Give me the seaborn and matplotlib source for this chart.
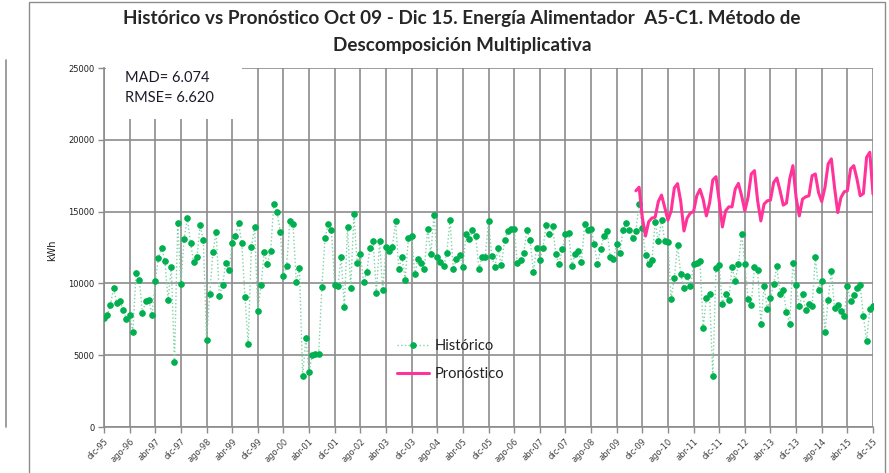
import numpy as np
import pandas as pd
import seaborn as sns
import matplotlib.pyplot as plt
from matplotlib.patches import Rectangle
from matplotlib.lines import Line2D

## datos mensuales en kWh, desde dic-95 (mes 0) hasta dic-15 (mes 240)
historico = [7580,
    7770, 8520, 9680, 8630, 8750, 8120, 7510, 7820, 6650, 10730, 10270, 7930,       # 1996
    8750, 8870, 7820, 10150, 11780, 12480, 11550, 8870, 11130, 4500, 14230, 9960,    # 1997
    13070, 14580, 12790, 11480, 11830, 14050, 13020, 6070, 9290, 12180, 13600, 9150, # 1998
    9870, 11430, 10920, 12790, 13300, 14230, 12790, 9030, 5760, 12550, 13930, 8050,  # 1999
    9870, 12180, 11360, 12250, 15560, 14980, 13600, 10500, 11200, 14350, 14120, 10100,  # 2000
    11040, 3570, 6180, 3850, 5020, 5080, 5100, 9750, 13180, 14120, 13700, 9870,      # 2001
    9800, 11850, 8330, 13930, 9680, 14860, 11430, 12060, 10100, 10800, 12440, 12950, # 2002
    9330, 12950, 9520, 12550, 12250, 12530, 14350, 11010, 11850, 10270, 13180, 13300,  # 2003
    10620, 11710, 11390, 11010, 13810, 12060, 14770, 11830, 11500, 11200, 12130, 14400,  # 2004
    11010, 11670, 11970, 11130, 13420, 13070, 13700, 13300, 11010, 11850, 11850, 14350,  # 2005
    11900, 11130, 12440, 11250, 13000, 13650, 13770, 13800, 11430, 11620, 12130, 13700,  # 2006
    13000, 10800, 12480, 11620, 12480, 14050, 13460, 14000, 12060, 11320, 12370, 13420,  # 2007
    13530, 11200, 12020, 12250, 11480, 14120, 13700, 13810, 12720, 11360, 12370, 13300,  # 2008
    13650, 11830, 11670, 12720, 12130, 13700, 14230, 13700, 13180, 13650, 15560, 13880,  # 2009
    11950, 11320, 11600, 14300, 12950, 14420, 12950, 12880, 8940, 10380, 12670, 10620,   # 2010
    9680, 10500, 9800, 11320, 11430, 11550, 6880, 8980, 9260, 3570, 11080, 11270,    # 2011
    8560, 9260, 8870, 11130, 10200, 11320, 13460, 11320, 8940, 8520, 11130, 10900,   # 2012
    7190, 9800, 8240, 8980, 9990, 11200, 9260, 9570, 8000, 7190, 11430, 9870,        # 2013
    8450, 9260, 8120, 8560, 8400, 11830, 9570, 10200, 6600, 8820, 10850, 8280,       # 2014
    8520, 8050, 7700, 9800, 8750, 9220, 9680, 9870, 7700, 6020, 8210, 8450,          # 2015
]

## pronóstico oct-09 ... dic-15
inicio_pronostico = 166
pronostico = [16450, 16700, 14600,
    13300, 14300, 14550, 14600, 15700, 16150, 15300, 14400, 15050, 16650, 16950, 15700,  # 2010
    13650, 14550, 14900, 15000, 16100, 16550, 15850, 14700, 15600, 17200, 17430, 15750,  # 2011
    13930, 15050, 15330, 15330, 16570, 16960, 16100, 15050, 15980, 17620, 17850, 15750,  # 2012
    14350, 15520, 15750, 15800, 17030, 17340, 16450, 15450, 15600, 17270, 18200, 15980,  # 2013
    14700, 15870, 16030, 16100, 17500, 17620, 16330, 15700, 16680, 18320, 18670, 16680,  # 2014
    14930, 15980, 16380, 16450, 17970, 18200, 17270, 16100, 16260, 18780, 19130, 16220,  # 2015
]

etiquetas_x = ["dic-95", "ago-96", "abr-97", "dic-97", "ago-98", "abr-99", "dic-99",
               "ago-00", "abr-01", "dic-01", "ago-02", "abr-03", "dic-03", "ago-04",
               "abr-05", "dic-05", "ago-06", "abr-07", "dic-07", "ago-08", "abr-09",
               "dic-09", "ago-10", "abr-11", "dic-11", "ago-12", "abr-13", "dic-13",
               "ago-14", "abr-15", "dic-15"]
ticks_y = [0, 5000, 10000, 15000, 20000, 25000]

titulo = ("Histórico vs Pronóstico Oct 09 - Dic 15. Energía Alimentador  A5-C1. Método de\n"
          "Descomposición Multiplicativa")
mad_txt = "MAD= 6.074"
rmse_txt = "RMSE= 6.620"

sns.set_theme(style="white")
plt.rcParams['font.family'] = ['Lato', 'DejaVu Sans']

df_hist = pd.DataFrame({"mes": np.arange(len(historico)), "kwh": historico})
df_pron = pd.DataFrame({"mes": np.arange(inicio_pronostico, inicio_pronostico + len(pronostico)),
                        "kwh": pronostico})

W, H = 889, 473
fig = plt.figure(figsize=(W / 100, H / 100), dpi=100)
ax = fig.add_axes([104 / W, 1 - 427 / H, 769 / W, 359 / H])

gris = '#8c8c8c'
sns.lineplot(data=df_hist, x="mes", y="kwh", ax=ax, color='#7fd3a6', linestyle=':', lw=1.0,
             marker='o', markersize=4.0, markerfacecolor='#00B050', markeredgecolor='#00B050',
             label="Histórico", zorder=3)
sns.lineplot(data=df_pron, x="mes", y="kwh", ax=ax, color='#FF3399', lw=2.2,
             label="Pronóstico", zorder=4)

ax.set_xlim(0, len(historico) - 1)
ax.set_ylim(0, 25000)
ax.set_xticks(range(0, len(historico), 8))
ax.set_xticklabels(etiquetas_x, rotation=45, ha='right', rotation_mode='anchor',
                   fontsize=6, family='DejaVu Sans', color='#404040')
ax.set_yticks(ticks_y)
ax.set_yticklabels([str(v) for v in ticks_y], fontsize=6, family='DejaVu Sans', color='#202020')
ax.set_xlabel("")
ax.set_ylabel("")
ax.grid(True, color=gris, lw=1.2)
ax.set_axisbelow(True)
ax.tick_params(bottom=True, left=True, length=4, width=1.0, color=gris, pad=3)
for s in ["top", "right"]:
    ax.spines[s].set_visible(False)
for s in ["left", "bottom"]:
    ax.spines[s].set_color(gris)
    ax.spines[s].set_linewidth(1.2)

ax.legend(loc='upper left', bbox_to_anchor=(0.372, 0.266), frameon=False, fontsize=10.5,
          handlelength=2.2, labelspacing=1.0, borderpad=0, handletextpad=0.35,
          labelcolor='#222222')

## caja blanca de MAD / RMSE
fig.add_artist(Rectangle((106 / W, 1 - 119 / H), 136 / W, 57 / H, transform=fig.transFigure,
                         facecolor='white', edgecolor='none', zorder=1))
fig.text(125 / W, 1 - 78 / H, mad_txt, fontsize=10.5, color='#1a1a2a', va='center', zorder=2)
fig.text(125 / W, 1 - 98 / H, rmse_txt, fontsize=10.5, color='#1a1a2a', va='center', zorder=2)

fig.text(52 / W, 1 - 250 / H, "kWh", rotation=90, ha='center', va='center', fontsize=7,
         family='DejaVu Sans', color='#1a1a1a')
fig.text(462 / W, 1 - 10 / H, titulo, ha='center', va='top', fontsize=13.6, fontweight='bold',
         color='#262626', linespacing=1.75)

## marco del gráfico
fig.add_artist(Rectangle((29 / W, -0.01), 856 / W, 1.01 - 2 / H, transform=fig.transFigure,
                         fill=False, edgecolor=gris, lw=1.0))
fig.add_artist(Line2D([6 / W, 6 / W], [1 - 427 / H, 1 - 60 / H], transform=fig.transFigure,
                      color=gris, lw=1.2))

fig.savefig("out.png", dpi=100)
